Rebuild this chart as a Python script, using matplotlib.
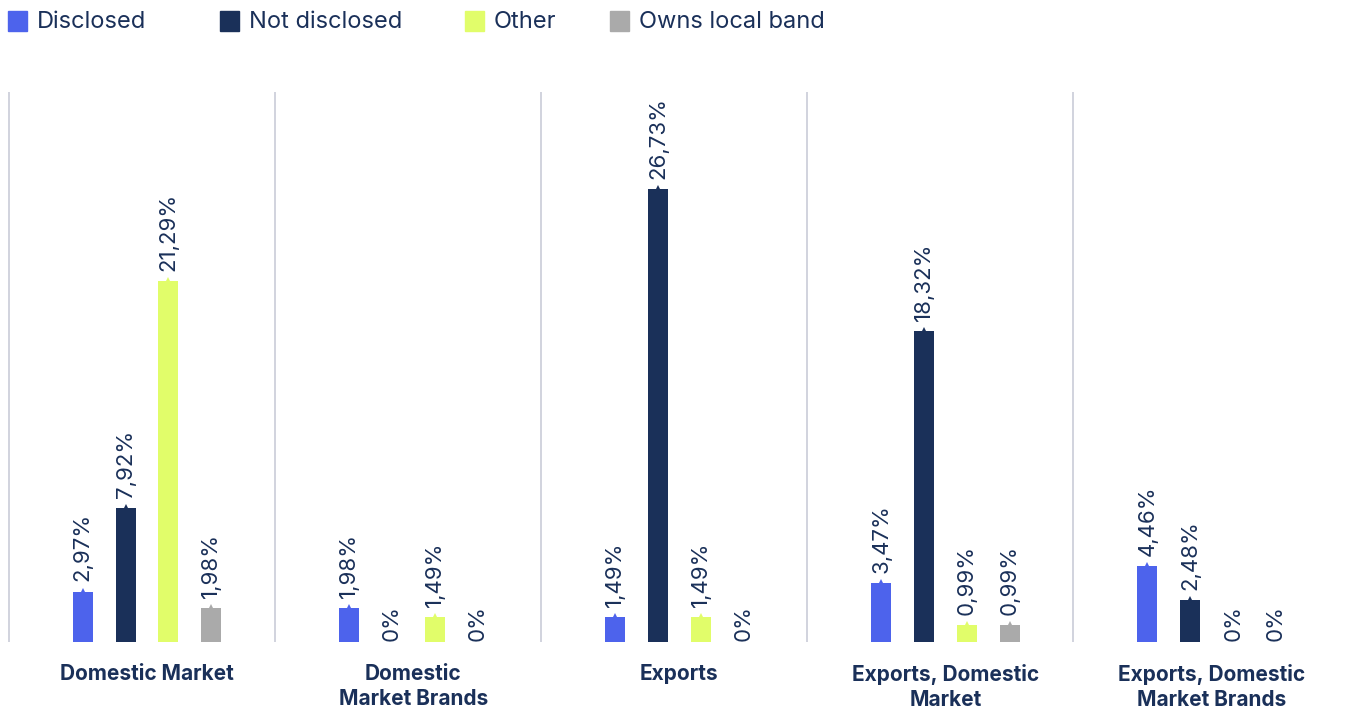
import matplotlib.pyplot as plt
from matplotlib.patches import Rectangle
import numpy as np

plt.rcParams['font.family'] = ['Inter', 'DejaVu Sans']

categories = ['Domestic Market', 'Domestic\nMarket Brands', 'Exports',
              'Exports, Domestic\nMarket', 'Exports, Domestic\nMarket Brands']
series = ['Disclosed', 'Not disclosed', 'Other', 'Owns local band']
disclosed = [2.97, 1.98, 1.49, 3.47, 4.46]
not_disclosed = [7.92, 0, 26.73, 18.32, 2.48]
other = [21.29, 1.49, 1.49, 0.99, 0]
owns_local_band = [1.98, 0, 0, 0.99, 0]

colors = ['#4d63ec', '#1a3059', '#e1fd6a', '#aaaaaa']
navy = '#1a3059'

fig = plt.figure(figsize=(13.45, 7.09), dpi=100)
ax = fig.add_axes([8 / 1345, 67 / 709, 1331 / 1345, 550 / 709])

x = np.arange(len(categories))
shift = 0.022
spacing = 0.161
width = 0.075

for k, vals in enumerate([disclosed, not_disclosed, other, owns_local_band]):
    xs = x + shift + (k - 1.5) * spacing
    for xi, v in zip(xs, vals):
        if v > 0:
            ax.bar(xi, v, width=width, color=colors[k], zorder=3)
            ax.plot(xi, v, marker='^', markersize=5.5, color=colors[k],
                    markeredgewidth=0, zorder=3)
            ax.text(xi, v + 0.6, f'{v:.2f}'.replace('.', ',') + '%',
                    rotation=90, ha='center', va='bottom',
                    fontsize=16, color=navy)
        else:
            ax.text(xi, 0.05, '0%', rotation=90, ha='center', va='bottom',
                    fontsize=16, color=navy)

# group separators
for b in np.arange(-0.5, len(categories), 1.0):
    ax.axvline(b + 0.002, color='#c9ccd8', linewidth=1.2, zorder=1)

ax.set_xlim(-0.5, len(categories) - 0.5)
ax.set_ylim(0, 32.45)
ax.set_yticks([])
ax.set_xticks(x + shift)
ax.set_xticklabels(categories, fontsize=15, fontweight='bold', color=navy,
                   linespacing=1.3)
ax.tick_params(axis='x', length=0, pad=16)
for s in ax.spines.values():
    s.set_visible(False)

# legend
legend_x = [8, 220, 465, 610]
for px, name, c in zip(legend_x, series, colors):
    fig.patches.append(Rectangle((px / 1345, 1 - 31 / 709), 19 / 1345, 20 / 709,
                                 transform=fig.transFigure, color=c))
    fig.text((px + 29) / 1345, 1 - 22 / 709, name, fontsize=17,
             color=navy, va='center', ha='left')

fig.savefig('out.png', dpi=100)
